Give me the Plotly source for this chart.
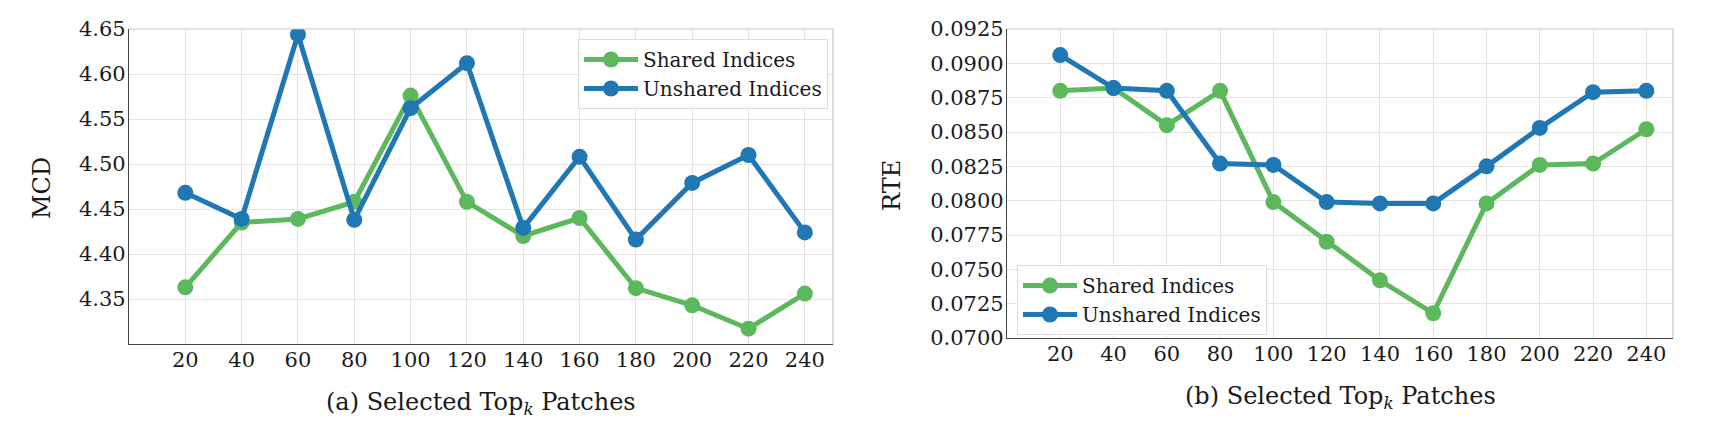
import plotly.graph_objects as go

topk = [20, 40, 60, 80, 100, 120, 140, 160, 180, 200, 220, 240]

mcd_shared = [4.363, 4.435, 4.439, 4.458, 4.576, 4.458, 4.420, 4.440, 4.362, 4.343, 4.317, 4.356]
mcd_unshared = [4.468, 4.439, 4.644, 4.438, 4.562, 4.612, 4.429, 4.508, 4.416, 4.479, 4.510, 4.424]

rte_shared = [0.0880, 0.0882, 0.0855, 0.0880, 0.0799, 0.0770, 0.0742, 0.0718, 0.0798, 0.0826, 0.0827, 0.0852]
rte_unshared = [0.0906, 0.0882, 0.0880, 0.0827, 0.0826, 0.0799, 0.0798, 0.0798, 0.0825, 0.0853, 0.0879, 0.0880]

mcd_ticks = [4.35, 4.40, 4.45, 4.50, 4.55, 4.60, 4.65]
rte_ticks = [0.0700, 0.0725, 0.0750, 0.0775, 0.0800, 0.0825, 0.0850, 0.0875, 0.0900, 0.0925]

GREEN = "#5cb85c"
BLUE = "#1f77b4"
FONT = "DejaVu Serif"
W, H = 1719, 436
OFF = 8  # page body margin offset


def px(X):
    return (X - OFF) / W


def py(Y):
    return 1 - (Y - OFF) / H


fig = go.Figure()


def add(x, y, name, color, xa, ya, legend):
    fig.add_trace(go.Scatter(
        x=x, y=y, name=name, mode="lines+markers",
        line=dict(color=color, width=5),
        marker=dict(color=color, size=16),
        xaxis=xa, yaxis=ya, legend=legend,
    ))


add(topk, mcd_shared, "Shared Indices", GREEN, "x", "y", "legend")
add(topk, mcd_unshared, "Unshared Indices", BLUE, "x", "y", "legend")
add(topk, rte_shared, "Shared Indices", GREEN, "x2", "y2", "legend2")
add(topk, rte_unshared, "Unshared Indices", BLUE, "x2", "y2", "legend2")

L1, R1, T1, B1 = 129, 833, 29, 344
L2, R2, T2, B2 = 1007, 1673, 29, 338

grid = "#e3e3e3"
axfont = dict(family=FONT, size=21, color="#1a1a1a")

xcommon = dict(tickvals=topk, range=[0, 250], showgrid=True, gridcolor=grid, gridwidth=1,
               zeroline=False, showline=True, linecolor="#444", linewidth=1.2,
               ticks="", tickfont=axfont, automargin=False, ticklabelstandoff=-3)
ycommon = dict(showgrid=True, gridcolor=grid, gridwidth=1, zeroline=False,
               showline=True, linecolor="#444", linewidth=1.2, ticks="",
               tickfont=axfont, automargin=False, ticklabelstandoff=-2)

legfont = dict(family=FONT, size=20, color="#1a1a1a")

fig.update_layout(
    width=W, height=H, autosize=False,
    margin=dict(l=0, r=0, t=0, b=0, pad=0, autoexpand=False),
    paper_bgcolor="white", plot_bgcolor="white",
    font=dict(family=FONT, color="#1a1a1a"),
    xaxis=dict(domain=[px(L1), px(R1)], anchor="y", **xcommon),
    yaxis=dict(domain=[py(B1), py(T1)], anchor="x", range=[4.30, 4.65],
               tickvals=mcd_ticks, tickformat=".2f", **ycommon),
    xaxis2=dict(domain=[px(L2), px(R2)], anchor="y2", **xcommon),
    yaxis2=dict(domain=[py(B2), py(T2)], anchor="x2", range=[0.0700, 0.0925],
                tickvals=rte_ticks, tickformat=".4f", **ycommon),
    legend=dict(x=px(578), y=py(39), xanchor="left", yanchor="top",
                bgcolor="rgba(255,255,255,0.9)", bordercolor="#dddddd", borderwidth=1,
                font=legfont, tracegroupgap=0, itemwidth=54),
    legend2=dict(x=px(1017), y=py(265), xanchor="left", yanchor="top",
                 bgcolor="rgba(255,255,255,0.9)", bordercolor="#dddddd", borderwidth=1,
                 font=legfont, tracegroupgap=0, itemwidth=54),
    showlegend=True,
)

# light top/right spines
for xr, yr in (("x", "y"), ("x2", "y2")):
    fig.add_shape(type="line", xref=f"{xr} domain", yref=f"{yr} domain",
                  x0=0, x1=1, y0=1, y1=1, line=dict(color="#c8c8c8", width=1.2))
    fig.add_shape(type="line", xref=f"{xr} domain", yref=f"{yr} domain",
                  x0=1, x1=1, y0=0, y1=1, line=dict(color="#c8c8c8", width=1.2))

tfont = dict(family=FONT, size=24, color="#1a1a1a")
fig.add_annotation(text="(a) Selected Top<sub><i>k</i></sub> Patches", xref="paper", yref="paper",
                   x=px((L1 + R1) / 2), y=py(403), showarrow=False, font=tfont,
                   xanchor="center", yanchor="middle")
fig.add_annotation(text="(b) Selected Top<sub><i>k</i></sub> Patches", xref="paper", yref="paper",
                   x=px((L2 + R2) / 2), y=py(397), showarrow=False, font=tfont,
                   xanchor="center", yanchor="middle")
fig.add_annotation(text="MCD", xref="paper", yref="paper", x=px(42), y=py(188),
                   showarrow=False, textangle=-90, font=tfont, xanchor="center", yanchor="middle")
fig.add_annotation(text="RTE", xref="paper", yref="paper", x=px(892), y=py(186),
                   showarrow=False, textangle=-90, font=tfont, xanchor="center", yanchor="middle")

fig.write_html("out.html")
